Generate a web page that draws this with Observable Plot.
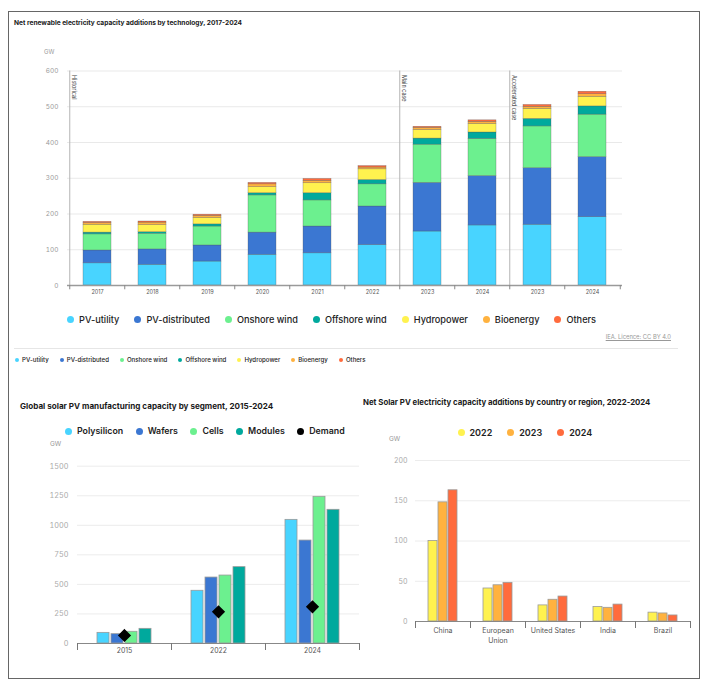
<!DOCTYPE html>
<html><head><meta charset="utf-8">
<script src="https://cdn.jsdelivr.net/npm/d3@7"></script>
<script src="https://cdn.jsdelivr.net/npm/@observablehq/plot@0.6"></script>
<style>
body{margin:0;background:#fff;font-family:Inter,"Noto Sans",sans-serif;}
#root{position:relative;width:708px;height:682px;overflow:hidden;background:#fff;}
.border{position:absolute;left:8px;top:11px;width:692px;height:668px;border:1.5px solid #666;box-sizing:border-box;}
.title{position:absolute;font-weight:700;color:#1a1a1a;white-space:nowrap;line-height:1;}
.legend{position:absolute;display:flex;align-items:center;white-space:nowrap;line-height:1;}
.item{display:flex;align-items:center;}
.dot{border-radius:50%;display:inline-block;flex:none;}
.unit{position:absolute;color:#999;line-height:1;}
.chart{position:absolute;}
.chart svg{overflow:visible;}
</style>
</head><body><div id="root"></div>
<script>
// ---------- Data: top chart ----------
const periods = ["2017","2018","2019","2020","2021","2022","2023 main","2024 main","2023 acc","2024 acc"];
const periodLabels = ["2017","2018","2019","2020","2021","2022","2023","2024","2023","2024"];
const techs = ["PV-utility","PV-distributed","Onshore wind","Offshore wind","Hydropower","Bioenergy","Others"];
const techColors = ["#48d4ff","#3b77d2","#6cf08f","#00a99d","#fff24f","#ffb23f","#ff6b3d"];
const pvUtility     = [62, 58, 67, 86, 90, 113, 151, 168, 170, 191];
const pvDistributed = [36, 43, 45, 62, 75, 108, 136, 138, 158, 168];
const onshoreWind   = [45, 44, 53, 104, 73, 62, 107, 104, 117, 119];
const offshoreWind  = [5, 4, 6, 6, 20, 12, 17, 18, 21, 23];
const hydropower    = [22, 20, 18, 17, 28, 30, 24, 24, 28, 27];
const bioenergy     = [5, 7, 6, 8, 7, 5, 6, 6, 6, 7];
const others        = [3, 3, 3, 4, 5, 4, 3, 4, 5, 7];
const topTicks = [0, 100, 200, 300, 400, 500, 600];
const caseStarts = ["2017", "2023 main", "2023 acc"];
const caseLabels = ["Historical", "Main case", "Accelerated case"];

// ---------- Data: manufacturing ----------
const mfgYears = ["2015", "2022", "2024"];
const segments = ["Polysilicon", "Wafers", "Cells", "Modules"];
const segColors = ["#48d4ff", "#3b77d2", "#6cf08f", "#00a99d"];
const polysilicon = [90, 446, 1046];
const wafers      = [79, 558, 871];
const cells       = [99, 575, 1241];
const modules     = [124, 646, 1131];
const demand      = [68, 268, 310];
const mfgTicks = [0, 250, 500, 750, 1000, 1250, 1500];

// ---------- Data: countries ----------
const countries = ["China", "European Union", "United States", "India", "Brazil"];
const countryLabels = ["China", "European\nUnion", "United States", "India", "Brazil"];
const addYears = ["2022", "2023", "2024"];
const addColors = ["#fff24f", "#ffb23f", "#ff6b3d"];
const add2022 = [100, 41, 20, 18, 11];
const add2023 = [148, 45, 27, 17, 10];
const add2024 = [163, 48, 31, 21, 7.5];
const addTicks = [0, 50, 100, 150, 200];

(function () {
const FONT = "Inter, 'Noto Sans', sans-serif";
const root = document.getElementById("root");
const plain = d => String(d);

function el(tag, cls, styles, text) {
  const e = document.createElement(tag);
  if (cls) e.className = cls;
  Object.assign(e.style, styles || {});
  if (text != null) e.textContent = text;
  root.appendChild(e);
  return e;
}
function legend(names, colors, opts) {
  const lg = el("div", "legend", {left: opts.left + "px", top: opts.top + "px", gap: opts.gap + "px",
    fontSize: opts.fontSize + "px", fontWeight: opts.weight || 500, color: opts.color || "#222"});
  names.forEach((n, i) => {
    const it = document.createElement("div"); it.className = "item";
    const d = document.createElement("span"); d.className = "dot";
    Object.assign(d.style, {width: opts.dot + "px", height: opts.dot + "px", background: colors[i], marginRight: opts.dotGap + "px"});
    const t = document.createElement("span"); t.textContent = n;
    it.appendChild(d); it.appendChild(t); lg.appendChild(it);
  });
  return lg;
}
function place(svg, left, topPx) {
  const wrap = el("div", "chart", {left: left + "px", top: topPx + "px"});
  wrap.appendChild(svg);
}

el("div", "border");

// ---------- Top chart ----------
el("div", "title", {left: "14px", top: "20px", fontSize: "6.6px"}, "Net renewable electricity capacity additions by technology, 2017-2024");
el("div", "unit", {left: "44px", top: "49px", fontSize: "6px"}, "GW");

const techSeries = [pvUtility, pvDistributed, onshoreWind, offshoreWind, hydropower, bioenergy, others];
const topData = techs.flatMap((t, ti) => periods.map((p, pi) => ({period: p, tech: t, value: techSeries[ti][pi]})));
const cases = caseStarts.map((p, i) => ({period: p, label: caseLabels[i]}));
const W1 = 708, ML1 = 67, MR1 = 86;
const step1 = (W1 - ML1 - MR1) / periods.length;

const topChart = Plot.plot({
  width: W1, height: 265, marginLeft: ML1, marginRight: MR1, marginTop: 30.5, marginBottom: 20,
  style: {fontFamily: FONT, background: "transparent", overflow: "visible"},
  x: {domain: periods, paddingInner: 0.5, paddingOuter: 0.25, axis: null},
  y: {domain: [0, 600], axis: null},
  color: {domain: techs, range: techColors},
  marks: [
    Plot.gridY(topTicks.slice(1), {stroke: "#e9e9e9", strokeOpacity: 1}),
    Plot.axisY(topTicks, {tickSize: 0, tickPadding: 9, fill: "#9a9a9a", fontSize: 6.5, label: null, tickFormat: plain}),
    Plot.axisX({tickSize: 0, tickPadding: 5, tickFormat: p => periodLabels[periods.indexOf(p)], fill: "#555", fontSize: 5.5, label: null}),
    Plot.ruleX(cases, {x: "period", dx: -step1 / 2, y1: () => 0, y2: () => 600, stroke: "#b5b5b5", strokeWidth: 1}),
    Plot.text(cases, {x: "period", y: () => 600, text: "label", rotate: 90, textAnchor: "start", lineAnchor: "bottom",
      dx: -step1 / 2 + 2, dy: 4, fontSize: 5.5, fill: "#444"}),
    Plot.barY(topData, {x: "period", y: "value", fill: "tech", order: techs, stroke: "#555", strokeWidth: 0.5, strokeOpacity: 0.6}),
    Plot.ruleY([0], {stroke: "#9a9a9a", strokeWidth: 1.3}),
    Plot.ruleX(periods, {x: d => d, dx: -step1 / 2, y1: () => 0, y2: () => -12, stroke: "#888"}),
    Plot.ruleX(periods.slice(-1), {x: d => d, dx: step1 / 2, y1: () => 0, y2: () => -12, stroke: "#888"})
  ]
});
place(topChart, 0, 40);

legend(techs, techColors, {left: 67, top: 315, gap: 15, fontSize: 9.2, dot: 7, dotGap: 5, weight: 500});
el("div", "unit", {left: "560px", top: "334px", width: "111px", textAlign: "right", fontSize: "5.8px", textDecoration: "underline", color: "#999"}, "IEA. Licence: CC BY 4.0");
el("div", "", {position: "absolute", left: "14px", top: "348px", width: "664px", height: "1px", background: "#e6e6e6"});
legend(techs, techColors, {left: 15, top: 357, gap: 11, fontSize: 6.1, dot: 4, dotGap: 3, weight: 500});

// ---------- Bottom-left: manufacturing ----------
el("div", "title", {left: "20px", top: "402px", fontSize: "8.1px"}, "Global solar PV manufacturing capacity by segment, 2015-2024");
legend(segments.concat(["Demand"]), segColors.concat(["#000"]), {left: 65, top: 427, gap: 12.5, fontSize: 8.8, dot: 7, dotGap: 5, weight: 600});
el("div", "unit", {left: "50px", top: "441px", fontSize: "6.5px"}, "GW");

const segSeries = [polysilicon, wafers, cells, modules];
const mfgData = segments.flatMap((s, si) => mfgYears.map((y, yi) => ({year: y, segment: s, value: segSeries[si][yi]})));
const demandData = mfgYears.map((y, i) => ({year: y, value: demand[i]}));
const H2 = 230, MT2 = 25.7, MB2 = 27;

const mfg = Plot.plot({
  width: 362, height: H2, marginLeft: 77, marginRight: 3, marginTop: MT2, marginBottom: MB2,
  style: {fontFamily: FONT, background: "transparent", overflow: "visible"},
  fx: {domain: mfgYears, padding: 0, axis: null, label: null},
  x: {domain: segments, paddingInner: 0.16, paddingOuter: 1.37, axis: null},
  y: {domain: [0, 1500], axis: null},
  color: {domain: segments, range: segColors},
  marks: [
    Plot.gridY(mfgTicks.slice(1), {stroke: "#ececec", strokeOpacity: 1}),
    Plot.axisY(mfgTicks, {tickSize: 0, tickPadding: 9, fill: "#aaa", fontSize: 7.3, label: null, tickFormat: plain}),
    Plot.axisFx({anchor: "bottom", tickSize: 0, tickPadding: 5, fill: "#555", fontSize: 6.9, label: null}),
    Plot.barY(mfgData, {fx: "year", x: "segment", y: "value", fill: "segment", stroke: "#9a9a9a", strokeWidth: 0.8}),
    Plot.dot(demandData, {fx: "year", y: "value", symbol: "diamond2", r: 5, fill: "#000", stroke: "#000"}),
    Plot.ruleY([0], {stroke: "#888", strokeWidth: 1.2}),
    Plot.frame({anchor: "left", insetTop: H2 - MT2 - MB2, insetBottom: -6, stroke: "#777"}),
    Plot.frame({anchor: "right", insetTop: H2 - MT2 - MB2, insetBottom: -6, stroke: "#777"})
  ]
});
place(mfg, 0, 440);

// ---------- Bottom-right: countries ----------
el("div", "title", {left: "363px", top: "399px", fontSize: "7.8px"}, "Net Solar PV electricity capacity additions by country or region, 2022-2024");
legend(addYears, addColors, {left: 457.5, top: 428, gap: 15, fontSize: 9, dot: 7, dotGap: 5, weight: 600});
el("div", "unit", {left: "389px", top: "436px", fontSize: "6.5px"}, "GW");

const addSeries = [add2022, add2023, add2024];
const addData = addYears.flatMap((yr, yi) => countries.map((c, ci) => ({country: c, year: yr, value: addSeries[yi][ci]})));
const H3 = 230, MT3 = 20, MB3 = 49;

const addChart = Plot.plot({
  width: 346, height: H3, marginLeft: 52, marginRight: 18, marginTop: MT3, marginBottom: MB3,
  style: {fontFamily: FONT, background: "transparent", overflow: "visible"},
  fx: {domain: countries, padding: 0, axis: null, label: null},
  x: {domain: addYears, paddingInner: 0.143, paddingOuter: 1.2, axis: null},
  y: {domain: [0, 200], axis: null},
  color: {domain: addYears, range: addColors},
  marks: [
    Plot.gridY(addTicks.slice(1), {stroke: "#ececec", strokeOpacity: 1}),
    Plot.axisY(addTicks, {tickSize: 0, tickPadding: 8, fill: "#aaa", fontSize: 7, label: null, tickFormat: plain}),
    Plot.axisFx({anchor: "bottom", tickSize: 0, tickPadding: 5, fill: "#555", fontSize: 7, lineHeight: 1.4, label: null,
      tickFormat: c => countryLabels[countries.indexOf(c)]}),
    Plot.barY(addData, {fx: "country", x: "year", y: "value", fill: "year", stroke: "#9a9a9a", strokeWidth: 0.8}),
    Plot.ruleY([0], {stroke: "#888", strokeWidth: 1.2}),
    Plot.frame({anchor: "left", insetTop: H3 - MT3 - MB3, insetBottom: -6, stroke: "#777"}),
    Plot.frame({anchor: "right", insetTop: H3 - MT3 - MB3, insetBottom: -6, stroke: "#777"})
  ]
});
place(addChart, 362, 440);
})();
</script></body></html>
